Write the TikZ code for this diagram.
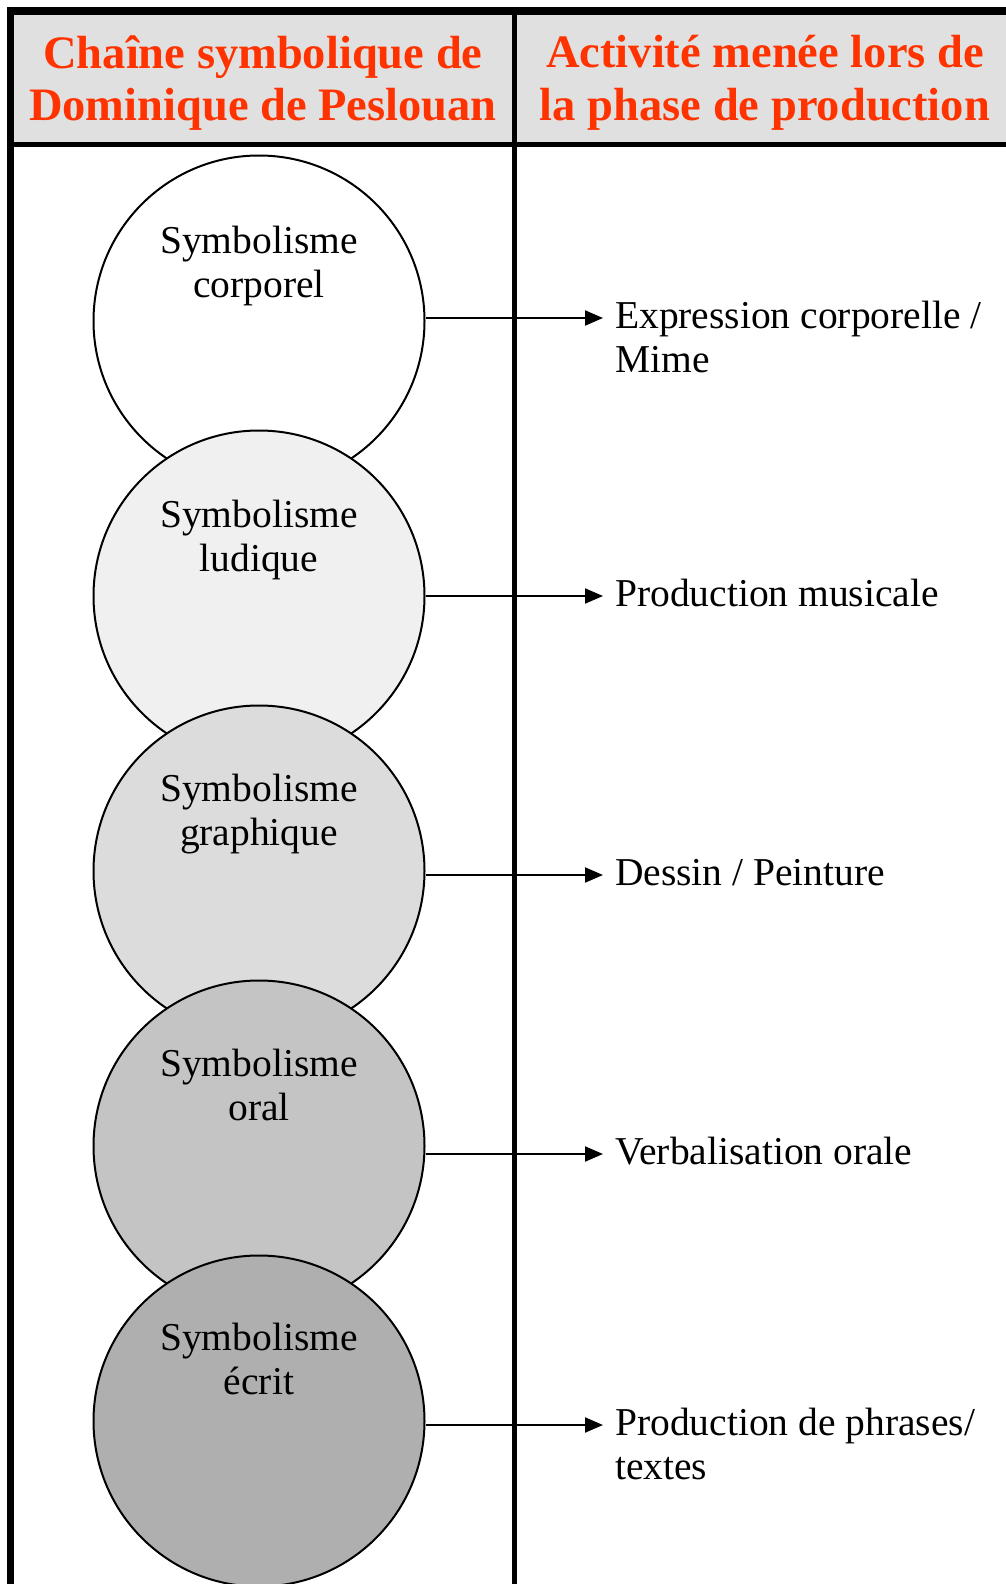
\documentclass[tikz,border=0pt]{standalone}
\usepackage{fontspec}
\setmainfont{Liberation Serif}
\usetikzlibrary{arrows.meta}
\definecolor{hdrred}{HTML}{FF3300}
\definecolor{hdrgray}{HTML}{E0E0E0}
\definecolor{fillA}{HTML}{FFFFFF}
\definecolor{fillB}{HTML}{F0F0F0}
\definecolor{fillC}{HTML}{DCDCDC}
\definecolor{fillD}{HTML}{C4C4C4}
\definecolor{fillE}{HTML}{AFAFAF}
\begin{document}
\begin{tikzpicture}[x=1pt,y=-1pt,
  circ/.style={circle, draw=black, line width=2pt, minimum size=331pt, inner sep=0pt},
  ctext/.style={align=center, inner sep=0pt, font=\fontsize{39.5}{44}\selectfont},
  rtext/.style={align=left, inner ysep=0pt, inner xsep=12pt, anchor=base west, font=\fontsize{39.5}{44}\selectfont},
  htext/.style={align=center, inner sep=0pt, text=hdrred, font=\fontsize{46.5}{52.5}\selectfont\bfseries},
  arr/.style={line width=2pt, -{Triangle[length=18pt, width=15pt]}},
]
\useasboundingbox (0,0) rectangle (1006,1584);
\clip (0,0) rectangle (1006,1584);
\fill[white] (0,0) rectangle (1006,1584);
% header
\fill[hdrgray] (14,14) rectangle (1020,143);
\draw[line width=4.5pt] (11,144.5) -- (1020,144.5);
\draw[line width=7.5pt] (7,11) -- (1020,11);
\draw[line width=7pt] (10.5,7) -- (10.5,1600);
\draw[line width=5pt] (514.5,11) -- (514.5,1600);
\node[htext] (h1) at (263,83) {Chaîne symbolique de\\Dominique de Peslouan};
\node[htext] (h2) at (765,83) {Activité menée lors de\\la phase de production};
% circles
\node[circ, fill=fillA] (c1) at (259,321) {};
\node[circ, fill=fillB] (c2) at (259,596) {};
\node[circ, fill=fillC] (c3) at (259,871) {};
\node[circ, fill=fillD] (c4) at (259,1146) {};
\node[circ, fill=fillE] (c5) at (259,1421) {};
\node[ctext] (l1) at ([yshift=55pt]c1.center) {Symbolisme\\corporel};
\node[ctext] (l2) at ([yshift=56pt]c2.center) {Symbolisme\\ludique};
\node[ctext] (l3) at ([yshift=57pt]c3.center) {Symbolisme\\graphique};
\node[ctext] (l4) at ([yshift=61pt]c4.center) {Symbolisme\\oral};
\node[ctext] (l5) at ([yshift=62pt]c5.center) {Symbolisme\\écrit};
% right texts
\node[rtext] (t1) at (603,372) {Expression corporelle /\\Mime};
\node[rtext] (t2) at (603,606) {Production musicale};
\node[rtext] (t3) at (603,885) {Dessin / Peinture};
\node[rtext] (t4) at (603,1164) {Verbalisation orale};
\node[rtext] (t5) at (603,1479) {Production de phrases/\\textes};
% arrows
\draw[arr] ([yshift=3pt]c1.east) -- ([yshift=3pt]c1.east -| t1.west);
\draw[arr] (c2.east) -- (c2.east -| t2.west);
\draw[arr] ([yshift=-4pt]c3.east) -- ([yshift=-4pt]c3.east -| t3.west);
\draw[arr] ([yshift=-8pt]c4.east) -- ([yshift=-8pt]c4.east -| t4.west);
\draw[arr] ([yshift=-4pt]c5.east) -- ([yshift=-4pt]c5.east -| t5.west);
\end{tikzpicture}
\end{document}
